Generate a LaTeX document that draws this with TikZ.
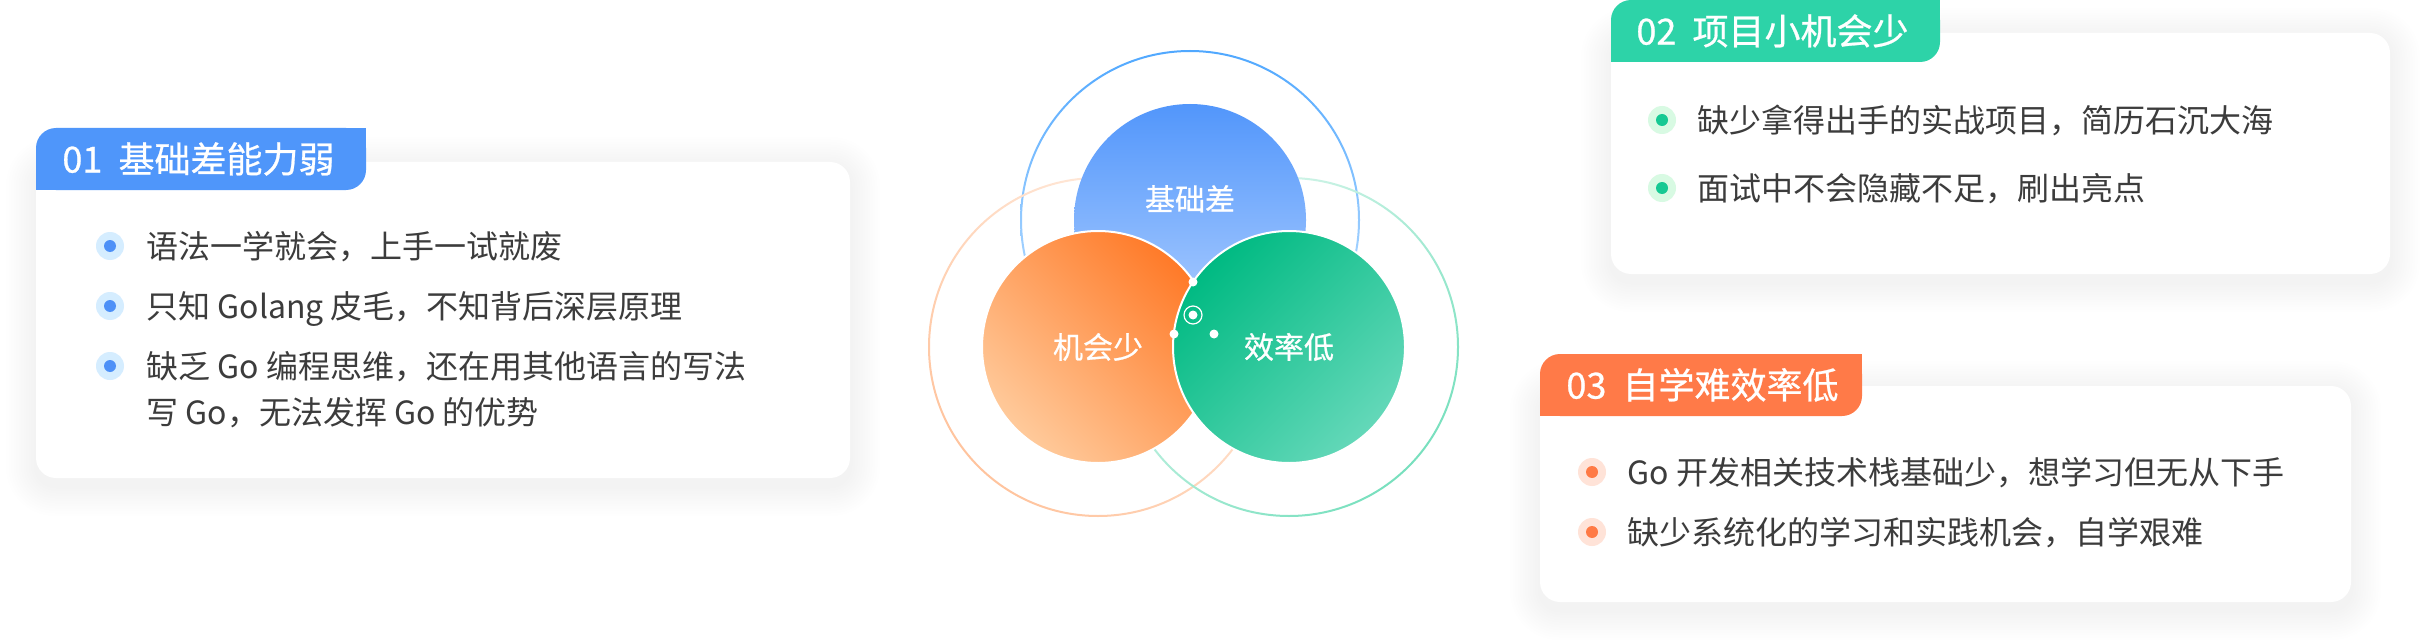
\documentclass[tikz,border=0pt]{standalone}
\usepackage{fontspec}
\setmainfont{Noto Sans CJK SC}
\newfontfamily\medfont[FakeBold=0.7]{Noto Sans CJK SC}
\definecolor{tabblue}{HTML}{4F96FA}
\definecolor{tabgreen}{HTML}{2DD3A8}
\definecolor{taborange}{HTML}{FF7A48}
\definecolor{txt}{HTML}{3C3C3C}
\definecolor{bbo}{HTML}{D5EDFF}
\definecolor{bbi}{HTML}{4D90F7}
\definecolor{bgo}{HTML}{D8FAE3}
\definecolor{bgi}{HTML}{16C993}
\definecolor{boo}{HTML}{FFE3D8}
\definecolor{boi}{HTML}{FF7A45}
\definecolor{shd}{HTML}{6A7A90}
\tikzset{
  bodytext/.style={font=\fontsize{16pt}{20pt}\selectfont, text=txt, inner sep=0pt, anchor=west, text height=14.1pt, text depth=1.9pt},
  tabtext/.style={font=\medfont\fontsize{18pt}{22pt}\selectfont, text=white, inner sep=0pt, anchor=west, text height=15.8pt, text depth=2.2pt},
  vlabel/.style={font=\medfont\fontsize{15pt}{18pt}\selectfont, text=white, inner sep=0pt, text height=13.2pt, text depth=1.8pt},
  bouter/.style={circle, inner sep=0pt, minimum size=14pt, fill=#1},
  binner/.style={circle, inner sep=0pt, minimum size=6pt, fill=#1},
  cardbody/.style={fill=white, rounded corners=10pt},
  wdot/.style={circle, fill=white, inner sep=0pt, minimum size=4.5pt},
  vcircle/.style={circle, inner sep=0pt, minimum size=116pt},
}
\newcommand\cardshadow[4]{%
  \foreach \k [evaluate=\k as \rr using 10+\k*1.2] in {1,...,12}{%
    \fill[shd, opacity=0.0045, rounded corners=\rr pt] (#1-\k*2.5,#2-\k*2.5+5) rectangle (#3+\k*2.5,#4+\k*2.5+8);}%
}
\newcommand\cardtab[5]{%
  \fill[#5, rounded corners=10pt] (#1,#2) rectangle (#3,#4);
  \fill[#5] (#3-20,#2) rectangle (#3,#2+20);
  \fill[#5] (#1,#4-20) rectangle (#1+20,#4);
}
\begin{document}
\begin{tikzpicture}[x=0.5pt,y=-0.5pt]
\useasboundingbox (0,0) rectangle (2426,642);
\fill[white] (0,0) rectangle (2426,642);

% ---------- card 1 ----------
\cardshadow{36}{162}{850}{478}
\fill[cardbody] (36,162) rectangle (850,478);
\cardtab{36}{128}{366}{190}{tabblue}
\node[tabtext] (h1) at (62,159) {01\hspace{0.45em}基础差能力弱};
\foreach \n/\yy in {1/246,2/306,3/366}{
  \node[bouter=bbo] (bo1\n) at (110,\yy) {};
  \node[binner=bbi] (bi1\n) at (bo1\n.center) {};
}
\node[bodytext] (t11) at (146,246) {语法一学就会，上手一试就废};
\node[bodytext] (t12) at (146,306) {只知 Golang 皮毛，不知背后深层原理};
\node[bodytext] (t13) at (146,366) {缺乏 Go 编程思维，还在用其他语言的写法};
\node[bodytext] (t14) at (146,412) {写 Go，无法发挥 Go 的优势};

% ---------- card 2 ----------
\cardshadow{1611}{33}{2390}{274}
\fill[cardbody] (1611,33) rectangle (2390,274);
\cardtab{1611}{0}{1940}{62}{tabgreen}
\node[tabtext] (h2) at (1636,31) {02\hspace{0.45em}项目小机会少};
\foreach \n/\yy in {1/120,2/188}{
  \node[bouter=bgo] (bo2\n) at (1662,\yy) {};
  \node[binner=bgi] (bi2\n) at (bo2\n.center) {};
}
\node[bodytext] (t21) at (1697,120) {缺少拿得出手的实战项目，简历石沉大海};
\node[bodytext] (t22) at (1697,188) {面试中不会隐藏不足，刷出亮点};

% ---------- card 3 ----------
\cardshadow{1540}{386}{2351}{602}
\fill[cardbody] (1540,386) rectangle (2351,602);
\cardtab{1540}{354}{1862}{416}{taborange}
\node[tabtext] (h3) at (1566,385) {03\hspace{0.45em}自学难效率低};
\foreach \n/\yy in {1/472,2/532}{
  \node[bouter=boo] (bo3\n) at (1592,\yy) {};
  \node[binner=boi] (bi3\n) at (bo3\n.center) {};
}
\node[bodytext] (t31) at (1627,472) {Go 开发相关技术栈基础少，想学习但无从下手};
\node[bodytext] (t32) at (1627,532) {缺少系统化的学习和实践机会，自学艰难};

% ---------- venn ----------
\shade[even odd rule, top color={rgb,255:red,80;green,168;blue,255}, bottom color={rgb,255:red,214;green,235;blue,255}]
  (1190,220) circle[radius=170] (1190,220) circle[radius=168];
\shade[even odd rule, top color={rgb,255:red,255;green,238;blue,226}, bottom color={rgb,255:red,255;green,196;blue,158}, shading angle=-45]
  (1098,347) circle[radius=170] (1098,347) circle[radius=168];
\shade[even odd rule, top color={rgb,255:red,222;green,247;blue,238}, bottom color={rgb,255:red,120;green,224;blue,190}, shading angle=45]
  (1289,347) circle[radius=170] (1289,347) circle[radius=168];

\node[vcircle, top color={rgb,255:red,82;green,150;blue,251}, bottom color={rgb,255:red,176;green,208;blue,255}] (cb) at (1190,220) {};
\node[vcircle, top color={rgb,255:red,255;green,122;blue,40}, bottom color={rgb,255:red,255;green,202;blue,155}, shading angle=-45, draw=white, line width=1pt] (co) at (1098,347) {};
\node[vcircle, top color={rgb,255:red,0;green,186;blue,130}, bottom color={rgb,255:red,100;green,216;blue,185}, shading angle=45, draw=white, line width=1pt] (cg) at (1289,347) {};

\node[vlabel] (lb) at (1190,199) {基础差};
\node[vlabel] (lo) at (1098,347) {机会少};
\node[vlabel] (lg) at (1289,347) {效率低};

\node[wdot] (d1) at (1193,282) {};
\node[wdot] (d2) at (1174,334) {};
\node[wdot] (d3) at (1214,334) {};
\node[circle, draw=white, line width=0.6pt, inner sep=0pt, minimum size=9pt] (dr) at (1193,315) {};
\node[wdot] (d4) at (dr.center) {};
\end{tikzpicture}
\end{document}
